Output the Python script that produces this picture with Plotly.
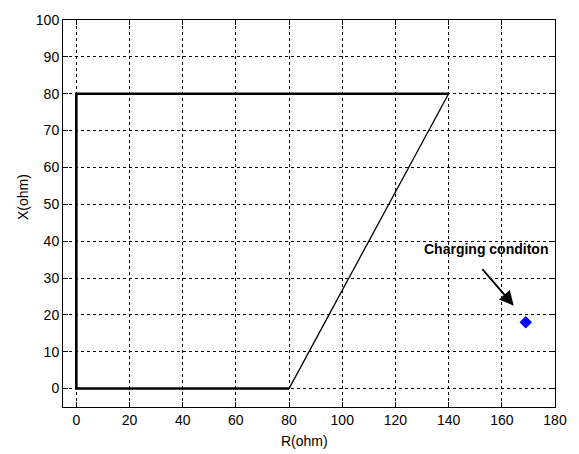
import plotly.graph_objects as go

# Characteristic boundary (R, X) in ohm
zone_r = [0, 0, 140, 80, 0]
zone_x = [0, 80, 80, 0, 0]

# Operating point during charging
point_r = [169]
point_x = [18]
point_label = "Charging conditon"

x_ticks = list(range(0, 181, 20))
y_ticks = list(range(0, 101, 10))

FONT = "Arial"

fig = go.Figure()

# Left, top and bottom edges drawn heavy, slanted edge lighter
fig.add_trace(go.Scatter(x=[zone_r[3], zone_r[4], zone_r[1], zone_r[2]],
                         y=[zone_x[3], zone_x[4], zone_x[1], zone_x[2]],
                         mode="lines", line=dict(color="black", width=2.6),
                         showlegend=False, hoverinfo="skip"))
fig.add_trace(go.Scatter(x=zone_r[2:4], y=zone_x[2:4],
                         mode="lines", line=dict(color="black", width=1.3),
                         showlegend=False, hoverinfo="skip"))
fig.add_trace(go.Scatter(x=point_r, y=point_x, mode="markers",
                         marker=dict(symbol="diamond", size=8, color="#0000ff",
                                     line=dict(color="#0000ff", width=1.5)),
                         showlegend=False))

fig.add_annotation(x=164.5, y=22.5, ax=152.2, ay=32.8, xref="x", yref="y",
                   axref="x", ayref="y", text="", showarrow=True,
                   arrowhead=2, arrowsize=1.6, arrowwidth=1.8, arrowcolor="black")
fig.add_annotation(x=154.2, y=37.8, xref="x", yref="y", text="<b>" + point_label + "</b>",
                   xanchor="center", yanchor="middle", showarrow=False,
                   font=dict(family=FONT, size=14, color="black"))

# Axis titles
fig.add_annotation(x=0.49, y=-0.089, xref="paper", yref="paper", text="R(ohm)",
                   xanchor="center", yanchor="middle", showarrow=False,
                   font=dict(family=FONT, size=14, color="black"))
fig.add_annotation(x=-0.081, y=0.543, xref="paper", yref="paper", text="X(ohm)",
                   xanchor="center", yanchor="middle", textangle=-90, showarrow=False,
                   font=dict(family=FONT, size=14, color="black"))

axis_common = dict(showline=True, linecolor="black", linewidth=1, mirror="ticks",
                   ticks="inside", ticklen=5, tickcolor="black",
                   showgrid=True, gridcolor="black", griddash="3px,3px", gridwidth=1,
                   zeroline=False, tickfont=dict(family=FONT, size=14, color="black"))

fig.update_xaxes(range=[-5, 180], tickvals=x_ticks, **axis_common)
fig.update_yaxes(range=[-5, 100], tickvals=y_ticks, **axis_common)

fig.update_layout(width=579, height=454, margin=dict(l=63, r=22, t=15, b=47),
                  plot_bgcolor="white", paper_bgcolor="white")

fig.write_html("out.html")
